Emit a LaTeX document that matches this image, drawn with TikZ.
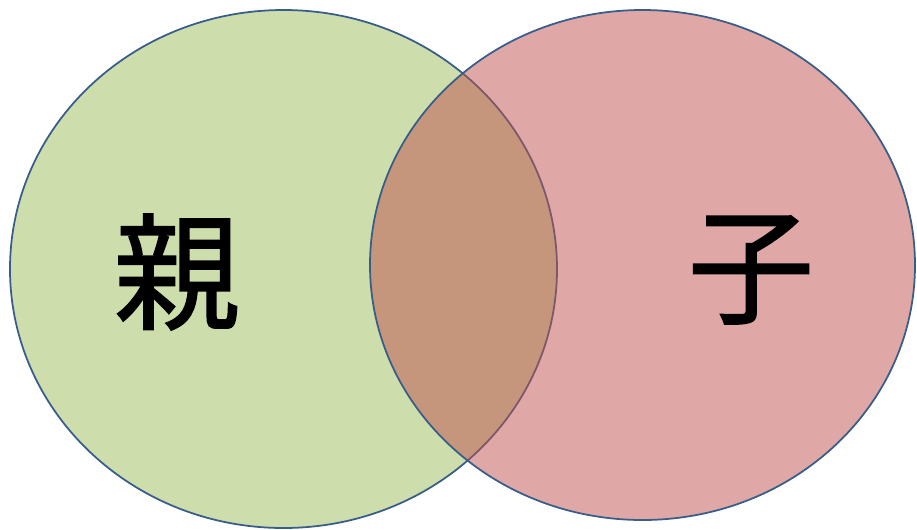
\documentclass[tikz,border=0pt]{standalone}
\usepackage{fontspec}
\usepackage{tikz}
\newfontfamily\cjk[FakeBold=1.2]{Noto Sans CJK JP}
\definecolor{oyagreen}{RGB}{155,187,89}
\definecolor{korose}{RGB}{192,80,77}
\definecolor{rimblue}{RGB}{56,93,138}

\begin{document}
\begin{tikzpicture}[x=0.02cm,y=-0.02cm,
    setrim/.style={draw=rimblue,line width=1pt},
    setlabel/.style={font=\cjk\fontsize{72}{72}\selectfont,inner sep=0pt}]
    \useasboundingbox (0,0) rectangle (917,529);
    % the parent set first, the child set laid over it
    \path[fill=oyagreen,fill opacity=0.5,setrim]
      (283.5,269) ellipse [x radius=273.5,y radius=259];
    \path[fill=korose,fill opacity=0.5,setrim]
      (642.5,265) ellipse [x radius=272.5,y radius=255];
    \node[setlabel] (oya) at (177,272) {親};
    \node[setlabel] (ko) at (751,270) {子};
  \end{tikzpicture}
\end{document}
